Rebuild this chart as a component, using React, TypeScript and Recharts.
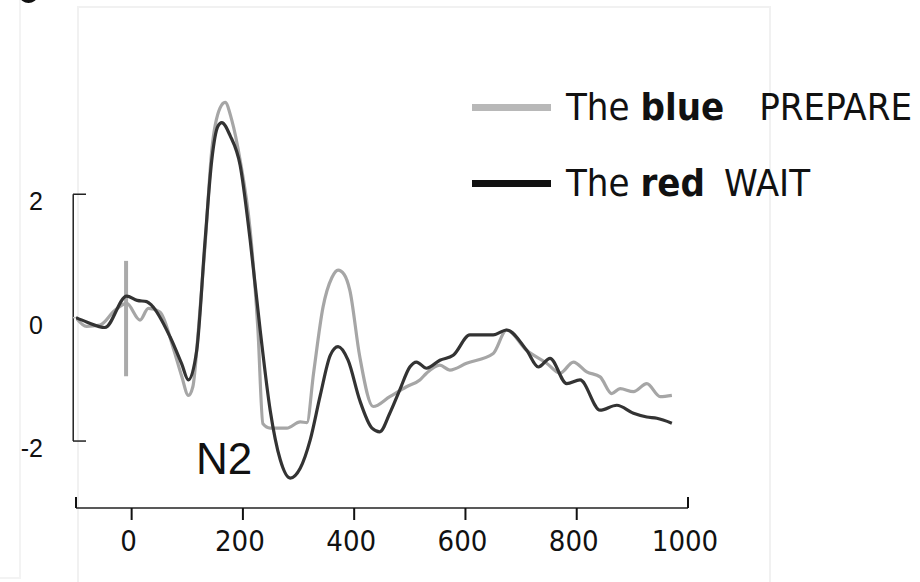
import { LineChart, Line, XAxis, YAxis, ReferenceLine, Legend } from 'recharts'

// time axis (ms) and amplitude axis (µV)
const timeTicks = [-100, 0, 200, 400, 600, 800, 1000]
const voltTicks = [-2, 0, 2]

// PREPARE condition (light trace)
const prepareTimes = [-100, -81, -57, -30, -9, 15, 30, 51, 75, 90, 102, 110, 120, 132, 144, 159, 168, 180, 195, 213, 227, 236, 249, 279, 303, 315, 327, 344, 360, 371, 382, 392, 410, 434, 464, 494, 518, 530, 554, 572, 602, 650, 674, 710, 746, 770, 794, 818, 842, 863, 878, 902, 926, 950, 971]
const prepareValues = [0, -0.14, -0.12, 0.12, 0.23, -0.04, 0.15, 0.09, -0.5, -0.95, -1.26, -1.12, -0.2, 1.17, 2.71, 3.4, 3.49, 3.2, 2.55, 1.42, -0.2, -1.72, -1.79, -1.79, -1.69, -1.7, -0.9, 0.17, 0.65, 0.77, 0.7, 0.45, -0.63, -1.44, -1.28, -1.12, -1.01, -0.9, -0.77, -0.85, -0.74, -0.58, -0.2, -0.53, -0.74, -0.9, -0.72, -0.88, -0.96, -1.23, -1.15, -1.2, -1.07, -1.28, -1.26]

// WAIT condition (dark trace)
const waitTimes = [-100, -81, -48, -9, 10, 27, 36, 69, 90, 102, 117, 132, 144, 155, 162, 177, 195, 213, 231, 249, 267, 285, 303, 321, 339, 357, 371, 389, 410, 432, 446, 464, 482, 500, 512, 530, 554, 578, 608, 632, 650, 674, 710, 731, 752, 782, 806, 842, 872, 902, 926, 944, 971]
const waitValues = [0, -0.07, -0.16, 0.35, 0.28, 0.26, 0.2, -0.31, -0.75, -1.01, -0.53, 1.25, 2.55, 3.1, 3.16, 2.95, 2.47, 1.26, -0.2, -1.5, -2.3, -2.6, -2.44, -1.98, -1.26, -0.61, -0.47, -0.69, -1.34, -1.79, -1.85, -1.55, -1.17, -0.8, -0.72, -0.82, -0.69, -0.61, -0.28, -0.28, -0.28, -0.2, -0.53, -0.8, -0.66, -1.07, -1.01, -1.5, -1.42, -1.55, -1.61, -1.63, -1.71]

// stimulus onset marker
const onsetTime = -10
const onsetRange = [0.92, -0.95]

const prepareData = prepareTimes.map((t, i) => ({ t, v: prepareValues[i] }))
const waitData = waitTimes.map((t, i) => ({ t, v: waitValues[i] }))

const narrow = '"Liberation Sans Narrow", "DejaVu Sans Condensed", sans-serif'
const plain = '"Liberation Sans", Arial, sans-serif'

// ticks hang below the time axis; the two ends of the axis turn upward instead
function XTick(props: any) {
  const { x, y, payload } = props
  const v = payload.value
  const end = v === -100 || v === 1000
  const top = Number(y)
  return (
    <g>
      <path d={end ? `M${x},${top}V${top - 11}` : `M${x},${top}V${top + 12}`} stroke="#111" strokeWidth={2} fill="none" />
      {v !== -100 && (
        <text x={x - 3} y={top + 43} textAnchor="middle" fontFamily={narrow} fontSize={29} fill="#111">
          {v}
        </text>
      )}
    </g>
  )
}

function YTick(props: any) {
  const { x, y, payload } = props
  const v = payload.value
  return (
    <g>
      {v === 0 ? (
        <line x1={x - 3} y1={y} x2={x} y2={y} stroke="#bbb" strokeWidth={1.5} />
      ) : (
        <line x1={x - 3} y1={y} x2={x + 10} y2={y} stroke="#222" strokeWidth={1.5} />
      )}
      <text x={x - 33} y={y + 16} textAnchor="end" fontFamily={plain} fontSize={25} fill="#111">
        {v}
      </text>
    </g>
  )
}

function LegendBox() {
  const rows = [
    { color: '#b8b8b8', word: 'blue', cond: 'PREPARE', gap: 35 },
    { color: '#111', word: 'red', cond: 'WAIT', gap: 19 },
  ]
  return (
    <div>
      {rows.map((r, i) => (
        <div key={r.word} style={{ display: 'flex', alignItems: 'center', height: 40, marginTop: i ? 36 : 0 }}>
          <div style={{ width: 79, height: 7, flexShrink: 0, background: r.color }} />
          <div style={{ marginLeft: 15, fontFamily: narrow, fontSize: 38, lineHeight: '40px', color: '#111', whiteSpace: 'nowrap' }}>
            The <b>{r.word}</b>
            <span style={{ marginLeft: r.gap }}>{r.cond}</span>
          </div>
        </div>
      ))}
    </div>
  )
}

export default function App() {
  return (
    <div style={{ position: 'absolute', left: 0, top: 0, width: 920, height: 582, background: '#fff', overflow: 'hidden' }}>
      {/* faint panel frames, plus the curve poking in at the top-left corner */}
      <div style={{ position: 'absolute', left: 0, top: 0, width: 19, height: 577, borderRight: '2px solid #f3f3f3', borderBottom: '2px solid #f3f3f3' }} />
      <div style={{ position: 'absolute', left: 77, top: 6, width: 690, height: 590, border: '2px solid #f1f1f1', borderBottom: 'none' }} />
      <div style={{ position: 'absolute', left: 20, top: -10, width: 17, height: 10, borderBottom: '3px solid #111', borderRadius: '50%' }} />
      <LineChart width={920} height={582} margin={{ top: 77, right: 232, bottom: 0, left: 0 }} style={{ position: 'absolute', left: 0, top: 0 }}>
        <XAxis
          dataKey="t"
          type="number"
          domain={[-100, 1000]}
          ticks={timeTicks}
          interval={0}
          allowDataOverflow
          height={74}
          axisLine={{ stroke: '#222', strokeWidth: 1.5 }}
          tickLine={false}
          tickSize={0}
          tickMargin={0}
          tick={<XTick />}
        />
        <YAxis
          type="number"
          domain={[-3.085, 3.9]}
          ticks={voltTicks}
          interval={0}
          allowDataOverflow
          width={76}
          axisLine={false}
          tickLine={false}
          tickSize={0}
          tickMargin={0}
          tick={<YTick />}
        />
        {/* y bracket from -2 to 2 */}
        <ReferenceLine
          segment={[{ x: -105, y: 2 }, { x: -105, y: -2 }]}
          stroke="#222"
          strokeWidth={1.5}
          ifOverflow="visible"
        />
        <ReferenceLine
          segment={[{ x: onsetTime, y: onsetRange[0] }, { x: onsetTime, y: onsetRange[1] }]}
          stroke="#aaa"
          strokeWidth={4}
          ifOverflow="visible"
        />
        <Line
          data={prepareData}
          dataKey="v"
          type="monotone"
          stroke="#a6a6a6"
          strokeWidth={3.2}
          dot={false}
          isAnimationActive={false}
          style={{ filter: 'blur(0.6px)' }}
        />
        <Line
          data={waitData}
          dataKey="v"
          type="monotone"
          stroke="#333"
          strokeWidth={3.2}
          dot={false}
          isAnimationActive={false}
          style={{ filter: 'blur(0.6px)' }}
        />
        <Legend
          layout="horizontal"
          verticalAlign="middle"
          align="center"
          content={<LegendBox />}
          wrapperStyle={{ position: 'absolute', left: 472, top: 87, width: 448, height: 160 }}
        />
        <text x={196} y={474} fontFamily={plain} fontSize={44} fill="#111">
          N2
        </text>
      </LineChart>
    </div>
  )
}
